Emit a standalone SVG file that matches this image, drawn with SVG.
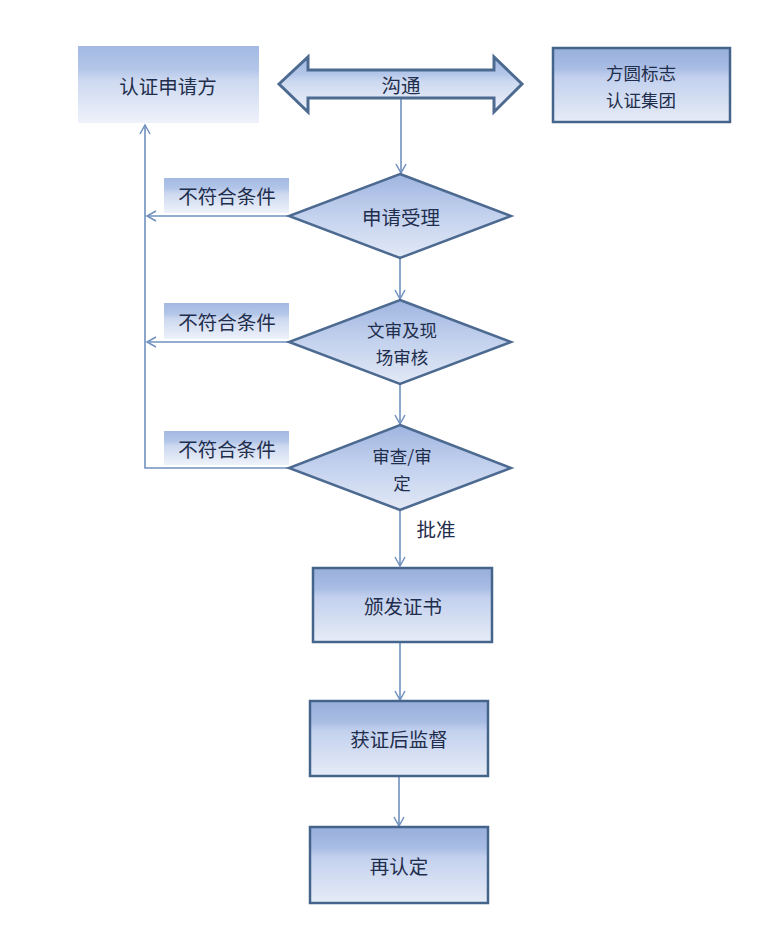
<svg xmlns="http://www.w3.org/2000/svg" width="767" height="927" viewBox="0 0 767 927">
<style>
.t{font-family:"Noto Sans CJK SC","Noto Sans",sans-serif;font-size:19.5px;fill:#1f2e4c;text-anchor:middle;dominant-baseline:central}
.t2{font-size:17.5px}
.c{fill:none;stroke:#6f90bf;stroke-width:1.6}
.box{fill:url(#g);stroke:#45648b;stroke-width:2.5}
.lbl{fill:url(#g2)}
.dia{fill:url(#gd);stroke:#4d6a90;stroke-width:2.5}
</style>
<defs>
<linearGradient id="g" x1="0" y1="0" x2="0" y2="1">
<stop offset="0" stop-color="#98afdc"/>
<stop offset="0.28" stop-color="#a9bde4"/>
<stop offset="0.4" stop-color="#c3d1ee"/>
<stop offset="1" stop-color="#e6ecf7"/>
</linearGradient>
<linearGradient id="g2" x1="0" y1="0" x2="0" y2="1">
<stop offset="0" stop-color="#a3b9e2"/>
<stop offset="0.3" stop-color="#b3c6e9"/>
<stop offset="0.45" stop-color="#cdd9f0"/>
<stop offset="1" stop-color="#eef2fa"/>
</linearGradient>
<linearGradient id="gd" x1="0" y1="0" x2="0" y2="1">
<stop offset="0" stop-color="#9fb5e0"/>
<stop offset="0.5" stop-color="#c4d2ee"/>
<stop offset="1" stop-color="#e2e9f6"/>
</linearGradient>
<marker id="a" markerWidth="12" markerHeight="12" refX="10" refY="6" orient="auto" markerUnits="userSpaceOnUse">
<polyline points="1,1 10,6 1,11" fill="none" stroke="#6f90bf" stroke-width="1.5"/>
</marker>
</defs>
<g id="connectors">
<line class="c" x1="401" y1="98" x2="401" y2="173" marker-end="url(#a)"/>
<line class="c" x1="400" y1="258" x2="400" y2="299" marker-end="url(#a)"/>
<line class="c" x1="400" y1="384" x2="400" y2="424" marker-end="url(#a)"/>
<line class="c" x1="400" y1="510" x2="400" y2="566" marker-end="url(#a)"/>
<line class="c" x1="400" y1="642" x2="400" y2="700" marker-end="url(#a)"/>
<line class="c" x1="399" y1="776" x2="399" y2="826" marker-end="url(#a)"/>
<line class="c" x1="289" y1="216" x2="147" y2="216" marker-end="url(#a)"/>
<line class="c" x1="289" y1="342" x2="147" y2="342" marker-end="url(#a)"/>
<polyline class="c" points="289,468 145,468 145,125" marker-end="url(#a)"/>
<text class="t" x="436" y="528">批准</text>
</g>
<g id="applicant">
<rect x="78" y="46" width="181" height="77" class="lbl"/>
<text class="t" x="168" y="85">认证申请方</text>
</g>
<g id="communicate">
<path d="M279,84 L308,57 L308,70 L494,70 L494,57 L522,84 L494,112 L494,98 L308,98 L308,112 Z" fill="url(#g2)" stroke="#4d6a90" stroke-width="3" stroke-linejoin="miter"/>
<text class="t" x="401" y="84">沟通</text>
</g>
<g id="group">
<rect x="553" y="48" width="177" height="74" class="box"/>
<text class="t t2" x="641" y="72">方圆标志</text>
<text class="t t2" x="641" y="99">认证集团</text>
</g>
<g id="label1">
<rect x="164" y="178" width="125" height="35" class="lbl"/>
<text class="t" x="227" y="195">不符合条件</text>
</g>
<g id="label2">
<rect x="164" y="303" width="125" height="36" class="lbl"/>
<text class="t" x="227" y="321">不符合条件</text>
</g>
<g id="label3">
<rect x="164" y="431" width="125" height="34" class="lbl"/>
<text class="t" x="227" y="448">不符合条件</text>
</g>
<g id="accept">
<polygon points="400,174 511,216 400,258 289,216" class="dia"/>
<text class="t" x="401" y="216">申请受理</text>
</g>
<g id="review">
<polygon points="400,300 511,342 400,384 289,342" class="dia"/>
<text class="t t2" x="402" y="329">文审及现</text>
<text class="t t2" x="402" y="356">场审核</text>
</g>
<g id="decide">
<polygon points="400,425 511,468 400,510 289,468" class="dia"/>
<text class="t t2" x="402" y="455">审查/审</text>
<text class="t t2" x="402" y="482">定</text>
</g>
<g id="issue">
<rect x="313" y="568" width="179" height="74" class="box"/>
<text class="t" x="403" y="605">颁发证书</text>
</g>
<g id="supervise">
<rect x="310" y="701" width="178" height="75" class="box"/>
<text class="t" x="399" y="738">获证后监督</text>
</g>
<g id="recert">
<rect x="310" y="827" width="178" height="76" class="box"/>
<text class="t" x="399" y="865">再认定</text>
</g>
</svg>
